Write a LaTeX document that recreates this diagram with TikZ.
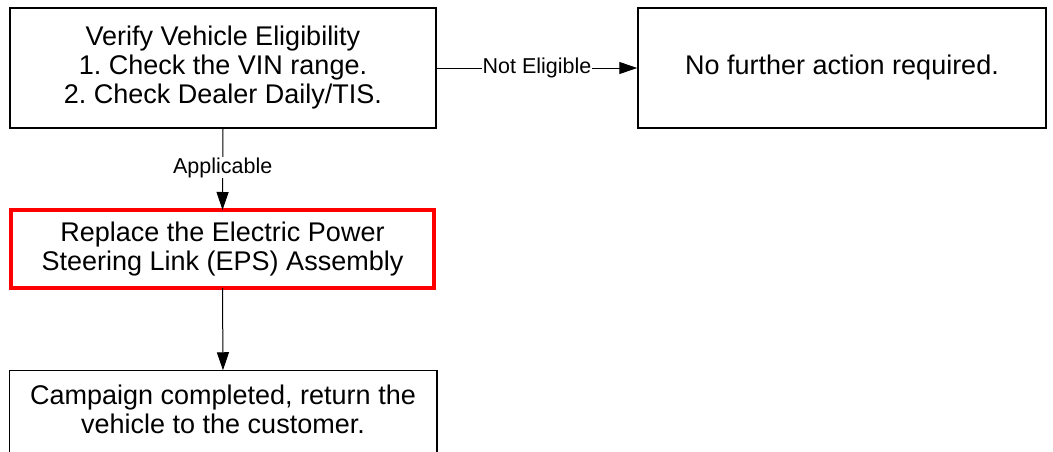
\documentclass[tikz,border=0pt]{standalone}
\usepackage{fontspec}
\setmainfont{Liberation Sans}
\usetikzlibrary{arrows.meta}
\frenchspacing
\begin{document}
\begin{tikzpicture}[x=1pt,y=-1pt,
  box/.style={draw=black,line width=1.5pt,minimum width=426pt,minimum height=120pt,align=center,font=\fontsize{27}{29}\selectfont,inner sep=0pt},
  redbox/.style={draw=red,line width=4pt,minimum width=423pt,minimum height=78pt,align=center,font=\fontsize{27}{29}\selectfont,inner sep=0pt},
  conn/.style={line width=1pt,-{Triangle[length=18pt,width=12pt]}},
  lbl/.style={font=\fontsize{21.5}{24}\selectfont,fill=white,inner sep=0.5pt}]
\useasboundingbox[fill=white] (0,0) rectangle (1053,451);
\clip (0,0) rectangle (1053,451);
\node[box] (verify) at (223,68) {Verify Vehicle Eligibility\\1. Check the VIN range.\\2. Check Dealer Daily/TIS.};
\node[box,minimum width=408pt] (nofurther) at (842,68) {No further action required.};
\node[redbox] (replace) at (222.5,249) {Replace the Electric Power\\Steering Link (EPS) Assembly};
\node[box,draw=none,minimum height=76pt] (done) at (223,409) {Campaign completed, return the\\vehicle to the customer.};
\draw[line width=1.5pt] ([yshift=-20pt]done.south west) -- (done.north west) -- (done.north east) -- ([yshift=-20pt]done.south east);
\draw[conn] (verify.east) -- node[lbl] {Not Eligible} (nofurther.west);
\draw[conn] (verify.south) -- node[lbl,pos=0.48] {Applicable} ([yshift=-2pt]replace.north);
\draw[conn] ([yshift=2pt]replace.south) -- (done.north);
\end{tikzpicture}
\end{document}
